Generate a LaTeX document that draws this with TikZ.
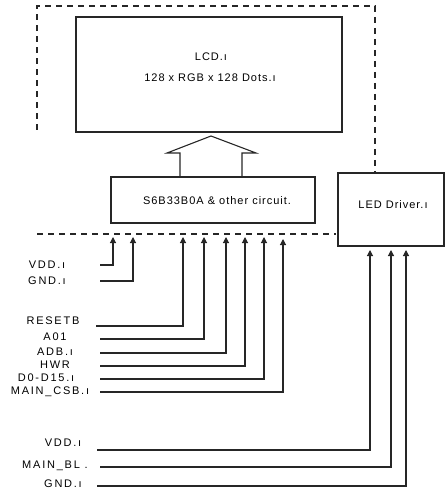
\documentclass[tikz,border=0pt]{standalone}
\usepackage{fontspec}
\setmainfont{Liberation Sans}[LetterSpace=9.0]
\newfontfamily\lblfont{Liberation Sans}[LetterSpace=16.0]
\usetikzlibrary{arrows.meta}
\begin{document}
\begin{tikzpicture}[x=1pt,y=-1pt,
  box/.style={draw=black!85,line width=1.1pt},
  dsh/.style={draw=black!85,line width=1.1pt,dash pattern=on 6pt off 5pt},
  wire/.style={draw=black!85,line width=1.1pt,-{Triangle[width=6pt,length=6pt]}},
  lbl/.style={font=\lblfont\fontsize{11}{13}\selectfont,inner sep=0pt},
  txt/.style={font=\fontsize{11}{13}\selectfont,inner sep=0pt}]
\useasboundingbox (0,0) rectangle (445,489);
% dashed module outline
\coordinate (d1) at (37,6);
\coordinate (d2) at (375,6);
\coordinate (d3) at (375,173);
\coordinate (d4) at (37,130);
\coordinate (d5) at (37,234);
\coordinate (d6) at (336,234);
\draw[dsh] (d4) -- (d1) -- (d2) -- (d3);
\draw[dsh] (d5) -- (d6);
% boxes
\node[box,minimum width=266pt,minimum height=115pt,inner sep=0pt] (lcd) at (209,74.5) {};
\node[txt] (lcdt1) at (211,57) {LCD.ı};
\node[txt] (lcdt2) at (210,78) {128 x RGB x 128 Dots.ı};
\node[box,minimum width=204pt,minimum height=46pt,inner sep=0pt] (ic) at (213,200) {};
\node[txt] (ict) at (217,201) {S6B33B0A \& other circuit.};
\node[box,minimum width=106pt,minimum height=73pt,inner sep=0pt] (led) at (391,209.5) {};
\node[txt] (ledt) at (393,205) {LED Driver.ı};
% hollow arrow
\draw[box,line join=miter] (180,177) -- (180,153) -- (167,153) -- (211,136) -- (256,153) -- (242,153) -- (242,177);
% labels
\node[lbl] (vdd1) at (47,265) {VDD.ı};
\node[lbl] (gnd1) at (47,281) {GND.ı};
\node[lbl] (rst) at (53,321) {RESETB};
\node[lbl] (a01) at (55,337) {A01};
\node[lbl] (adb) at (55,352) {ADB.ı};
\node[lbl] (hwr) at (55,365) {HWR};
\node[lbl] (dd) at (46,378) {D0-D15.ı};
\node[lbl] (csb) at (50,392) {MAIN\_CSB.ı};
\node[lbl] (vdd2) at (63,443) {VDD.ı};
\node[lbl] (bl) at (55,466) {MAIN\_BL .};
\node[lbl] (gnd2) at (63,484) {GND.ı};
% wire start coordinates
\coordinate (s1) at (100,265);
\coordinate (s2) at (100,281);
\coordinate (s3) at (96,326);
\coordinate (s4) at (100,339);
\coordinate (s5) at (100,353);
\coordinate (s6) at (100,366);
\coordinate (s7) at (100,379);
\coordinate (s8) at (100,392);
\coordinate (s9) at (97,450);
\coordinate (s10) at (100,467);
\coordinate (s11) at (97,486);
% arrow tips
\coordinate (t1) at (113,237);
\coordinate (t2) at (133,237);
\coordinate (t3) at (183,237);
\coordinate (t4) at (204,237);
\coordinate (t5) at (226,237);
\coordinate (t6) at (245,237);
\coordinate (t7) at (264,237);
\coordinate (t8) at (283,239);
\coordinate (t9) at (370,250);
\coordinate (t10) at (391,250);
\coordinate (t11) at (406,250);
\foreach \i in {1,...,11}{
  \draw[wire] (s\i) -| (t\i);
}
\end{tikzpicture}
\end{document}
